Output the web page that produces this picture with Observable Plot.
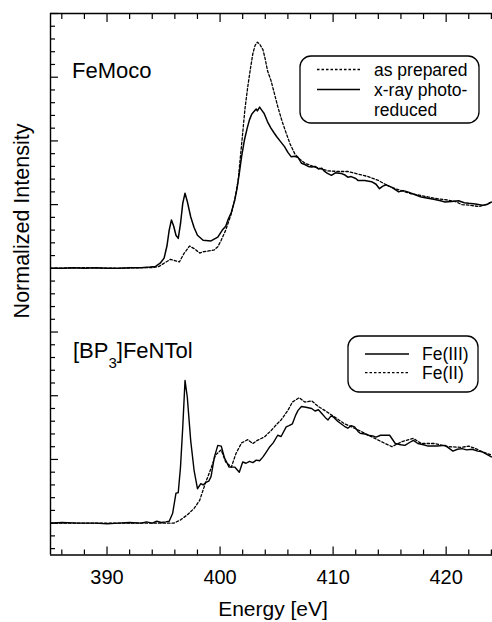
<!DOCTYPE html>
<html><head><meta charset="utf-8">
<script src="https://cdn.jsdelivr.net/npm/d3@7"></script>
<script src="https://cdn.jsdelivr.net/npm/@observablehq/plot@0.6"></script>
<style>body{margin:0;background:#fff}#chart{width:492px}</style>
</head><body><div id="chart"></div>
<script>
// ---- axis setup ----
const xDomain = [385, 424.1];
const yDomain = [-0.5, 8];
const xMajorTicks = [390, 400, 410, 420];
const xMinorTicks = [386, 388, 392, 394, 396, 398, 402, 404, 406, 408, 412, 414, 416, 418, 422, 424];
const yMajorTicks = [0, 1, 2, 3, 4, 5, 6, 7, 8];
const yMinorTicks = d3.range(-0.4, 8, 0.2).map(v => +v.toFixed(1)).filter(v => !Number.isInteger(v));
const topOffset = 4;     // FeMoco spectra baseline
const bottomOffset = 0;  // [BP3]FeNTol spectra baseline

// ---- FeMoco, x-ray photo-reduced (solid) ----
const reducedE = [385,386,387,388,389,390,391,392,393,393.8,394.3,394.7,395.05,395.3,395.5,395.7,395.9,396.1,396.3,396.5,396.7,396.9,397.1,397.4,397.7,398.0,398.5,399.2,399.8,400.2,400.5,400.7,401.0,401.3,401.5,401.7,401.9,402.15,402.4,402.6,402.8,403.0,403.2,403.3,403.5,403.7,403.9,404.2,404.5,404.8,405.0,405.3,405.7,406.0,406.3,406.6,406.9,407.2,407.5,407.8,408.1,408.4,408.7,409.0,409.25,409.5,409.85,410.2,410.7,411.0,411.3,411.6,412.0,412.2,412.8,413.4,413.8,414.1,414.4,414.7,415.2,415.8,416.2,416.6,417.2,417.8,418.4,419.0,419.5,419.9,420.5,421.1,421.6,422.0,422.6,423.2,423.6,424.0];
const reducedI = [0.00,0.00,0.01,0.00,0.01,0.00,0.00,0.01,0.01,0.02,0.03,0.08,0.16,0.35,0.60,0.76,0.66,0.52,0.47,0.70,1.02,1.18,1.05,0.81,0.64,0.52,0.44,0.43,0.49,0.60,0.66,0.76,0.88,1.07,1.25,1.49,1.75,2.01,2.20,2.33,2.42,2.46,2.50,2.47,2.53,2.48,2.43,2.30,2.20,2.12,2.07,2.00,1.91,1.82,1.75,1.76,1.74,1.65,1.63,1.60,1.59,1.60,1.56,1.57,1.52,1.49,1.46,1.50,1.49,1.47,1.43,1.44,1.41,1.38,1.38,1.36,1.32,1.25,1.29,1.31,1.27,1.20,1.22,1.20,1.16,1.12,1.10,1.08,1.06,1.04,1.05,1.06,1.03,1.02,1.01,0.99,1.00,1.04];

// ---- FeMoco, as prepared (dashed) ----
const preparedE = [385,388,391,393,394,394.6,395.05,395.6,396.0,396.4,396.8,397.3,397.7,398.2,398.5,398.9,399.5,399.8,400.1,400.5,401.0,401.3,401.6,401.8,402.0,402.2,402.45,402.7,402.9,403.1,403.3,403.5,403.8,404.0,404.2,404.5,404.8,405.1,405.5,405.85,406.2,406.6,407.0,407.5,408.4,409.55,410.5,411.3,412.2,413.1,414.0,414.8,415.5,416.2,416.9,417.6,418.4,419.3,420.2,420.8,421.4,422.1,422.9,423.5,424.0];
const preparedI = [0.00,0.01,0.00,0.01,0.01,0.03,0.08,0.14,0.12,0.10,0.23,0.35,0.31,0.24,0.26,0.27,0.29,0.34,0.44,0.60,0.86,1.08,1.38,1.75,2.12,2.50,2.85,3.15,3.37,3.50,3.55,3.52,3.43,3.28,3.10,2.95,2.75,2.54,2.30,2.12,1.95,1.80,1.72,1.65,1.59,1.53,1.52,1.52,1.48,1.44,1.38,1.30,1.25,1.21,1.17,1.15,1.12,1.09,1.07,1.05,1.00,0.99,0.97,1.00,1.04];

// ---- [BP3]FeNTol, Fe(III) (solid) ----
const fe3E = [385,386,387.5,389,390,391,392,393,393.5,394,394.4,394.8,395.2,395.5,395.8,396.1,396.3,396.5,396.7,396.9,397.1,397.4,397.7,398.0,398.3,398.5,398.75,399.0,399.2,399.5,399.8,400.1,400.4,400.6,400.8,401.3,401.7,402.0,402.3,402.6,402.9,403.2,403.5,403.8,404.1,404.4,404.7,405.1,405.4,405.85,406.1,406.4,406.7,406.9,407.2,407.6,408.1,408.4,408.7,409.0,409.3,409.55,409.8,410.0,410.4,410.7,411.0,411.3,411.6,411.9,412.2,412.4,412.8,413.1,413.5,413.8,414.2,415.0,415.5,416.0,416.35,416.8,417.1,417.5,418.0,418.4,419.2,419.9,420.3,420.6,421.0,421.4,421.8,422.3,422.8,423.2,423.6,424.0];
const fe3I = [0.00,0.01,0.00,0.00,-0.01,0.00,0.01,0.00,0.02,0.00,0.03,0.01,0.02,0.03,0.15,0.47,0.48,0.88,1.51,2.24,1.98,1.30,0.83,0.54,0.62,0.60,0.64,0.66,0.73,1.04,1.22,1.21,1.02,0.95,0.88,0.88,0.80,0.96,0.94,0.97,0.95,0.99,0.98,1.04,1.12,1.20,1.26,1.38,1.36,1.51,1.53,1.56,1.70,1.77,1.83,1.82,1.80,1.76,1.78,1.72,1.66,1.62,1.68,1.67,1.60,1.56,1.52,1.49,1.53,1.51,1.44,1.41,1.40,1.38,1.37,1.35,1.38,1.38,1.25,1.23,1.22,1.27,1.30,1.25,1.23,1.21,1.21,1.22,1.17,1.13,1.16,1.17,1.15,1.16,1.13,1.12,1.08,1.04];

// ---- [BP3]FeNTol, Fe(II) (dashed) ----
const fe2E = [385,387,389,391,393,395,395.9,396.5,397.1,397.7,398.2,398.5,398.75,399.2,399.6,400.1,400.5,401.0,401.4,401.9,402.45,402.9,403.3,403.9,404.5,405.0,405.4,406.0,406.4,407.0,407.5,408.1,408.7,409.25,410.1,411.0,411.9,412.8,413.7,414.6,415.2,416.1,417.1,417.8,419.0,420.2,421.4,422.0,422.6,423.2,424.0];
const fe2I = [0.00,0.00,0.00,0.00,0.00,0.00,0.00,0.05,0.13,0.23,0.36,0.52,0.65,0.86,1.07,1.15,0.96,0.88,1.09,1.26,1.31,1.25,1.30,1.35,1.45,1.55,1.62,1.77,1.90,1.97,1.90,1.92,1.83,1.77,1.67,1.56,1.49,1.41,1.33,1.25,1.20,1.28,1.33,1.25,1.25,1.20,1.19,1.21,1.17,1.12,1.07];

const toRows = (E, I, off) => E.map((e, i) => ({E: e, y: I[i] + off}));
const reduced = toRows(reducedE, reducedI, topOffset);
const prepared = toRows(preparedE, preparedI, topOffset);
const fe3 = toRows(fe3E, fe3I, bottomOffset);
const fe2 = toRows(fe2E, fe2I, bottomOffset);

const font = "'Liberation Sans', Arial, Helvetica, sans-serif";
const dash = "2.5,2";

const plot = Plot.plot({
  width: 492, height: 622,
  marginLeft: 50, marginRight: 0, marginTop: 13, marginBottom: 67.5,
  style: {fontFamily: font, background: "#fff", color: "#000"},
  x: {domain: xDomain, label: null},
  y: {domain: yDomain, label: null},
  marks: [
    Plot.ruleX([xDomain[0]], {stroke: "#000", strokeWidth: 1.4}),
    Plot.ruleY([yDomain[0]], {stroke: "#000", strokeWidth: 1.4}),
    Plot.ruleY([yDomain[1]], {stroke: "#000", strokeWidth: 1.4}),
    Plot.axisX({anchor: "bottom", ticks: xMajorTicks, tickSize: -8, tickPadding: 23, fontSize: 20, strokeWidth: 1.2, label: null}),
    Plot.axisX({anchor: "bottom", ticks: xMinorTicks, tickSize: -5, text: null, strokeWidth: 1.2, label: null}),
    Plot.axisX({anchor: "top", ticks: xMajorTicks, tickSize: -8, text: null, strokeWidth: 1.2, label: null}),
    Plot.axisX({anchor: "top", ticks: xMinorTicks, tickSize: -5, text: null, strokeWidth: 1.2, label: null}),
    Plot.axisY({anchor: "left", ticks: yMajorTicks, tickSize: -8, text: null, strokeWidth: 1.2, label: null}),
    Plot.axisY({anchor: "left", ticks: yMinorTicks, tickSize: -5, text: null, strokeWidth: 1.2, label: null}),
    Plot.line(prepared, {x: "E", y: "y", stroke: "#000", strokeWidth: 1.3, strokeDasharray: dash, clip: true}),
    Plot.line(reduced, {x: "E", y: "y", stroke: "#000", strokeWidth: 1.5, clip: true}),
    Plot.line(fe2, {x: "E", y: "y", stroke: "#000", strokeWidth: 1.3, strokeDasharray: dash, clip: true}),
    Plot.line(fe3, {x: "E", y: "y", stroke: "#000", strokeWidth: 1.4, clip: true})
  ]
});
document.getElementById("chart").appendChild(plot);

// ---- annotations, axis titles and legends ----
const svg = d3.select(plot);
const g = svg.append("g").attr("font-family", font).attr("fill", "#000").attr("text-anchor", "start");

g.append("text").attr("x", 72).attr("y", 70).attr("dominant-baseline", "central")
  .attr("font-size", 22).text("FeMoco");
const t2 = g.append("text").attr("x", 73).attr("y", 350).attr("dominant-baseline", "central").attr("font-size", 22);
t2.append("tspan").text("[BP");
t2.append("tspan").attr("font-size", 15).attr("dy", 12).text("3");
t2.append("tspan").attr("dy", -12).text("]FeNTol");

g.append("text").attr("x", 273).attr("y", 616).attr("text-anchor", "middle")
  .attr("font-size", 21).text("Energy [eV]");
g.append("text").attr("transform", "translate(22,221) rotate(-90)").attr("text-anchor", "middle")
  .attr("dominant-baseline", "central").attr("font-size", 21.5).text("Normalized Intensity");

function legend(x, y, w, h, items, lineX0, lineX1, textX, rowY0, rowStep, extra) {
  const lg = svg.append("g").attr("font-family", font).attr("text-anchor", "start");
  lg.append("rect").attr("x", x).attr("y", y).attr("width", w).attr("height", h).attr("rx", 11)
    .attr("fill", "#fff").attr("stroke", "#000").attr("stroke-width", 1.3);
  items.forEach((it, i) => {
    const yy = rowY0 + i * rowStep;
    lg.append("line").attr("x1", lineX0).attr("x2", lineX1).attr("y1", yy).attr("y2", yy)
      .attr("stroke", "#000").attr("stroke-width", it.dashed ? 1.3 : 1.4)
      .attr("stroke-dasharray", it.dashed ? dash : null);
    lg.append("text").attr("x", textX).attr("y", yy).attr("dominant-baseline", "central")
      .attr("font-size", 17.5).text(it.label);
  });
  (extra || []).forEach((s, j) => {
    lg.append("text").attr("x", textX).attr("y", rowY0 + (items.length + j) * rowStep)
      .attr("dominant-baseline", "central").attr("font-size", 17.5).text(s);
  });
}
legend(300, 56, 179, 67, [{label: "as prepared", dashed: true}, {label: "x-ray photo-", dashed: false}],
  317, 360, 374, 69.5, 20, ["reduced"]);
legend(348, 336, 130, 56, [{label: "Fe(III)", dashed: false}, {label: "Fe(II)", dashed: true}],
  365, 409, 422, 354, 18.7);
</script>
</body></html>
